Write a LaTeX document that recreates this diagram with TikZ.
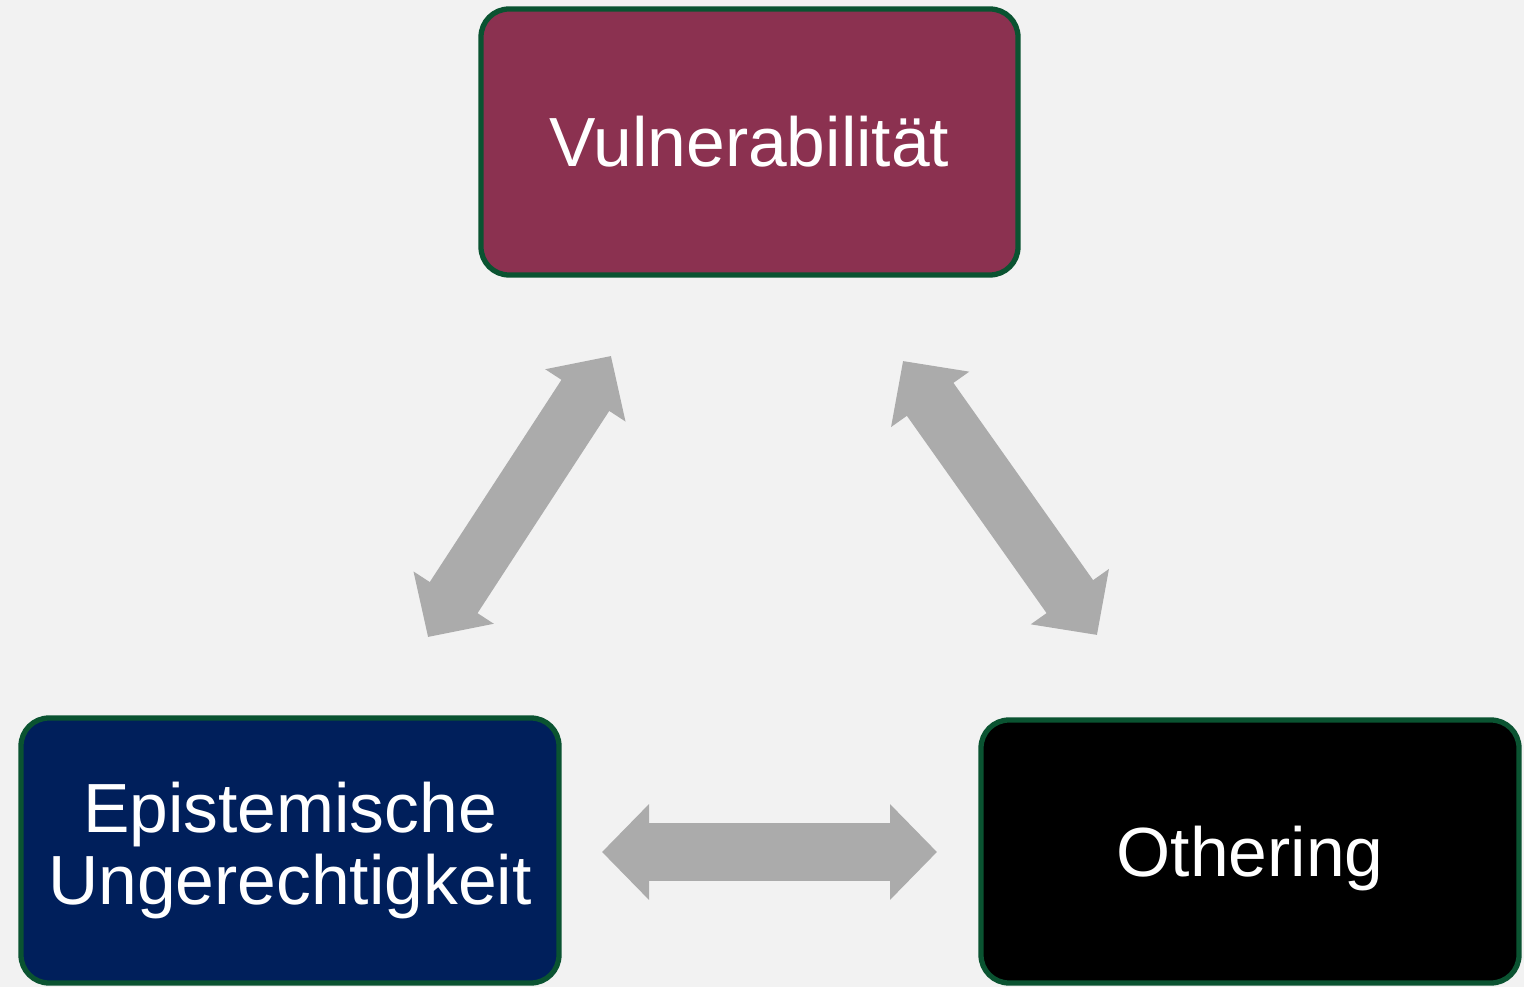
\documentclass[tikz,border=0pt]{standalone}
\usepackage{fontspec}
\setmainfont{Liberation Sans}
\usetikzlibrary{arrows.meta}

\definecolor{hgrund}{HTML}{F2F2F2}
\definecolor{rahmen}{HTML}{0A5331}
\definecolor{weinrot}{HTML}{8B3150}
\definecolor{marine}{HTML}{001F5B}
\definecolor{pfeilgrau}{HTML}{ABABAB}

\tikzset{
    kasten/.style={draw=rahmen, line width=1.5pt, rounded corners=0.28cm,
        text=white, align=center, font=\fontsize{19.8}{20.5}\selectfont},
    doppelpfeil/.style={pfeilgrau, line width=0.57cm, line cap=butt,
        {Triangle[length=0.47cm, width=0.93cm]}-{Triangle[length=0.47cm, width=0.93cm]}}
}

\begin{document}
\begin{tikzpicture}
    % Hintergrund
    \fill[hgrund] (0,0) rectangle (15.24,9.87);
    \useasboundingbox (0,0) rectangle (15.24,9.87);

    % die drei Begriffe
    \node[kasten, fill=weinrot, minimum width=5.37cm, minimum height=2.66cm] (vuln) at (7.495,8.45) {Vulnerabilität};
    \node[kasten, fill=marine, minimum width=5.38cm, minimum height=2.65cm] (epist) at (2.90,1.365) {Epistemische\\Ungerechtigkeit};
    \node[kasten, fill=black, text depth=0pt, minimum width=5.38cm, minimum height=2.63cm] (other) at (12.50,1.355) {Othering};

    % Pfeilspitzen
    \coordinate (le-u) at (4.28,3.50);
    \coordinate (le-o) at (6.11,6.31);
    \coordinate (re-o) at (9.03,6.26);
    \coordinate (re-u) at (10.97,3.52);
    \coordinate (mi-l) at (6.02,1.35);
    \coordinate (mi-r) at (9.37,1.35);

    % Wechselwirkungen
    \draw[doppelpfeil] (le-u) -- (le-o);
    \draw[doppelpfeil] (re-o) -- (re-u);
    \draw[doppelpfeil] (mi-l) -- (mi-r);
\end{tikzpicture}
\end{document}
